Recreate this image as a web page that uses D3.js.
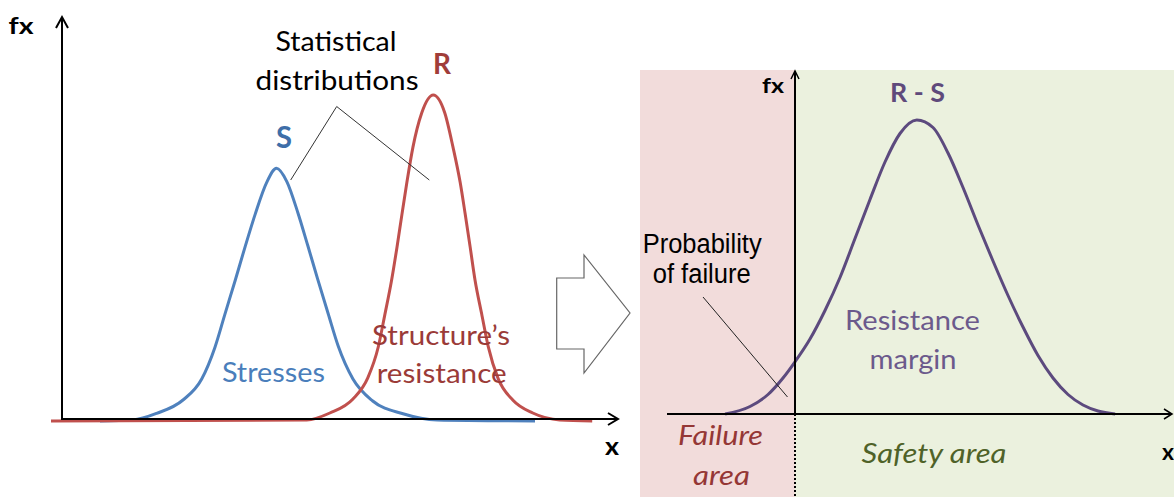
<!DOCTYPE html>
<html>
<head>
<meta charset="utf-8">
<script src="https://cdn.jsdelivr.net/npm/d3@7"></script>
<style>
  body { margin: 0; background: #fff; }
  svg { display: block; }
  text { font-family: Lato, "Open Sans", sans-serif; }
  .narrow { font-family: "Liberation Sans Narrow", "Liberation Sans", Arial, sans-serif; }
</style>
</head>
<body>
<div id="chart"></div>
<script>
// curves: [x, fx]
const stresses = [
  [0.69, 0], [1.29, 0.25], [1.72, 1.9], [2.2, 5.25], [2.54, 10.5], [2.78, 18.4],
  [2.96, 26.6], [3.15, 35.2], [3.33, 43.6], [3.51, 51.6], [3.72, 59.6], [3.9, 63.2],
  [4.09, 59.8], [4.29, 52], [4.47, 43.8], [4.65, 35.4], [4.84, 26.8], [5.02, 18.8],
  [5.29, 10.5], [5.65, 5.0], [6.2, 1.8], [6.82, 0.25], [8.6, 0]
];
const resistance = [
  [-0.2, 0], [4.45, 0.25], [4.87, 2], [5.29, 5.5], [5.56, 10.8], [5.75, 18.5],
  [5.87, 26.6], [5.99, 35], [6.09, 43.4], [6.18, 51.6], [6.27, 59.6], [6.38, 68.4],
  [6.54, 77], [6.75, 81.5], [6.96, 77], [7.11, 68.4], [7.24, 59.6], [7.33, 51.8],
  [7.42, 43.6], [7.51, 35.2], [7.63, 26.8], [7.75, 18.6], [7.93, 10.6], [8.2, 5.2],
  [8.56, 2], [9.05, 0.25], [9.64, 0]
];
const margin = [
  [-2.33, 0], [-1.5, 2.5], [-0.9, 6.5], [-0.4, 12], [0, 17.4], [0.5, 25], [1, 34.5],
  [1.5, 45.5], [2, 58.5], [2.5, 71.5], [3, 84], [3.5, 93.5], [4.06, 98], [4.6, 95.5],
  [5.1, 87], [5.6, 75.5], [6.1, 63], [6.6, 51], [7.1, 39.5], [7.6, 29], [8.1, 19.5],
  [8.6, 12], [9.1, 6.5], [9.6, 3], [10.1, 1], [10.67, 0]
];

const width = 1174;
const height = 497;

const svg = d3.select("#chart")
  .append("svg")
  .attr("width", width)
  .attr("height", height)
  .attr("viewBox", `0 0 ${width} ${height}`);

// scales
const xL = d3.scaleLinear().domain([0, 10]).range([62, 612]);
const yL = d3.scaleLinear().domain([0, 100]).range([421, 21]);
const xR = d3.scaleLinear().domain([0, 10]).range([795, 1095]);
const yR = d3.scaleLinear().domain([0, 100]).range([414, 114]);

function label(str, x, y, o) {
  const t = svg.append("text")
    .attr("x", x)
    .attr("y", y)
    .attr("text-anchor", "middle")
    .attr("font-size", o.size)
    .attr("fill", o.color || "#000")
    .text(str);
  if (o.bold) t.attr("font-weight", "bold");
  if (o.italic) t.attr("font-style", "italic");
  if (o.cls) t.attr("class", o.cls);
  if (o.w) t.attr("textLength", o.w).attr("lengthAdjust", "spacingAndGlyphs");
  return t;
}

// ---- right panel backgrounds
svg.append("rect")
  .attr("x", 640).attr("y", 70)
  .attr("width", xR(0) - 640).attr("height", height - 70)
  .attr("fill", "#f2dcdb");
svg.append("rect")
  .attr("x", xR(0)).attr("y", 70)
  .attr("width", width - xR(0)).attr("height", height - 70)
  .attr("fill", "#ebf1de");

// ---- left panel curves
const lineL = d3.line()
  .x((d) => xL(d[0]))
  .y((d) => yL(d[1]))
  .curve(d3.curveMonotoneX);

svg.append("path")
  .attr("d", lineL(stresses))
  .attr("fill", "none")
  .attr("stroke", "#4f81bd")
  .attr("stroke-width", 3);

svg.append("path")
  .attr("d", lineL(resistance))
  .attr("fill", "none")
  .attr("stroke", "#c0504d")
  .attr("stroke-width", 3);

// left axes
const axisY = yL(0) - 2;
svg.append("line")
  .attr("x1", xL(0)).attr("x2", 617)
  .attr("y1", axisY).attr("y2", axisY)
  .attr("stroke", "#000").attr("stroke-width", 2);
svg.append("line")
  .attr("x1", xL(0)).attr("x2", xL(0))
  .attr("y1", axisY + 1).attr("y2", 18)
  .attr("stroke", "#000").attr("stroke-width", 2);
svg.append("path")
  .attr("d", `M${608},${axisY - 6}L${618},${axisY}L${608},${axisY + 6}`)
  .attr("fill", "none").attr("stroke", "#000").attr("stroke-width", 2);
svg.append("path")
  .attr("d", `M${xL(0) - 6},${28}L${xL(0)},${17}L${xL(0) + 6},${28}`)
  .attr("fill", "none").attr("stroke", "#000").attr("stroke-width", 2);

// leader lines
svg.append("path")
  .attr("d", "M290.7,180L336.7,106.5L429.3,180")
  .attr("fill", "none").attr("stroke", "#333").attr("stroke-width", 1);

// left labels
label("fx", 21, 34, { size: 23, bold: true, w: 25 });
label("x", 612, 455, { size: 24, bold: true, w: 14 });
label("Statistical", 336, 51, { size: 27, w: 121 });
label("distributions", 337, 90, { size: 27, w: 163 });
label("S", 284, 148, { size: 30, bold: true, color: "#3e6ea8", w: 16 });
label("R", 442, 74, { size: 28, bold: true, color: "#a03d3a", w: 18 });
label("Stresses", 273.4, 381.7, { size: 27, color: "#4a7ebb", w: 103 });
label("Structure\u2019s", 441, 345, { size: 27, color: "#9b3b38", w: 138 });
label("resistance", 441.7, 383, { size: 27, color: "#9b3b38", w: 130 });

// ---- block arrow between panels
svg.append("polygon")
  .attr("points", "556.7,278 584,278 584,255 630,313 584,373 584,349 556.7,349")
  .attr("fill", "#fff")
  .attr("stroke", "#666")
  .attr("stroke-width", 1.2);

// ---- right panel
const lineR = d3.line()
  .x((d) => xR(d[0]))
  .y((d) => yR(d[1]))
  .curve(d3.curveMonotoneX);

svg.append("path")
  .attr("d", lineR(margin))
  .attr("fill", "none")
  .attr("stroke", "#5c4a7e")
  .attr("stroke-width", 3);

svg.append("line")
  .attr("x1", 667).attr("x2", 1172)
  .attr("y1", yR(0)).attr("y2", yR(0))
  .attr("stroke", "#000").attr("stroke-width", 2);
svg.append("path")
  .attr("d", `M1164,${yR(0) - 5}L1172,${yR(0)}L1164,${yR(0) + 5}`)
  .attr("fill", "none").attr("stroke", "#000").attr("stroke-width", 1.5);
svg.append("line")
  .attr("x1", xR(0)).attr("x2", xR(0))
  .attr("y1", yR(0) + 1).attr("y2", 71)
  .attr("stroke", "#000").attr("stroke-width", 2);
svg.append("path")
  .attr("d", `M${xR(0) - 4},79L${xR(0)},71L${xR(0) + 4},79`)
  .attr("fill", "none").attr("stroke", "#000").attr("stroke-width", 1.5);
svg.append("line")
  .attr("x1", xR(0)).attr("x2", xR(0))
  .attr("y1", yR(0)).attr("y2", height)
  .attr("stroke", "#000").attr("stroke-width", 2)
  .attr("stroke-dasharray", "2,2");

svg.append("line")
  .attr("x1", 703).attr("y1", 297)
  .attr("x2", 787.5).attr("y2", 397)
  .attr("stroke", "#222").attr("stroke-width", 1);

label("fx", 773, 93, { size: 20, bold: true, w: 22 });
label("R - S", 917.5, 101.7, { size: 26, bold: true, color: "#5f4a7b", w: 55 });
label("Probability", 702.2, 253, { size: 27, cls: "narrow", w: 119 });
label("of failure", 701.7, 283, { size: 27, cls: "narrow", w: 98 });
label("Resistance", 912.5, 330, { size: 27, color: "#6b5a8c", w: 135 });
label("margin", 913, 369, { size: 27, color: "#6b5a8c", w: 87 });
label("Failure", 720.5, 445, { size: 27, italic: true, color: "#953735", w: 85 });
label("area", 721.5, 485, { size: 27, italic: true, color: "#953735", w: 57 });
label("Safety area", 934, 463.3, { size: 27, italic: true, color: "#4f6228", w: 145 });
label("x", 1162, 460, { size: 22, bold: true, w: 12 }).attr("text-anchor", "start");
</script>
</body>
</html>
